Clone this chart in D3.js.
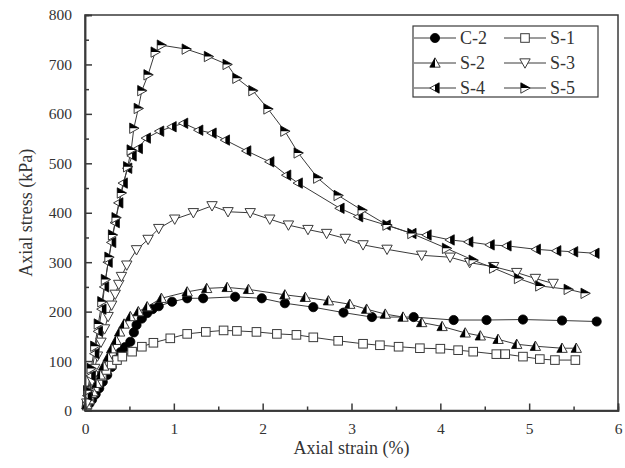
<!DOCTYPE html>
<html>
<head>
<meta charset="utf-8">
<script src="https://cdn.jsdelivr.net/npm/d3@7"></script>
<style>
  html, body { margin: 0; padding: 0; background: #fff; }
  svg { display: block; }
  text { font-family: "Liberation Serif", "Times New Roman", serif; fill: #333; }
</style>
</head>
<body>
<svg id="chart" width="625" height="468"></svg>
<script>
// Stress–strain data for each specimen (strain in %, stress in kPa)
const c2Strain = [0.02, 0.05, 0.08, 0.12, 0.16, 0.20, 0.25, 0.30, 0.35, 0.40, 0.45, 0.51, 0.55, 0.58, 0.64, 0.70, 0.76, 0.83, 0.98, 1.15, 1.33, 1.69, 1.99, 2.25, 2.57, 2.91, 3.23, 3.70, 4.15, 4.52, 4.93, 5.37, 5.76];
const c2Stress = [8, 14, 22, 33, 45, 58, 72, 88, 103, 118, 128, 139, 158, 173, 186, 197, 205, 211, 220, 227, 227, 230, 227, 217, 209, 198, 189, 189, 183, 183, 184, 182, 180];

const s1Strain = [0.02, 0.05, 0.08, 0.11, 0.15, 0.19, 0.24, 0.30, 0.36, 0.42, 0.53, 0.64, 0.77, 0.96, 1.15, 1.36, 1.56, 1.71, 1.93, 2.16, 2.38, 2.57, 2.85, 3.13, 3.32, 3.53, 3.77, 4.00, 4.20, 4.37, 4.63, 4.73, 4.93, 5.12, 5.29, 5.52];
const s1Stress = [10, 22, 35, 47, 58, 70, 82, 93, 102, 109, 119, 129, 137, 146, 155, 159, 162, 161, 159, 155, 153, 148, 141, 135, 132, 129, 126, 125, 122, 119, 114, 114, 109, 104, 102, 102];

const s2Strain = [0.02, 0.05, 0.09, 0.13, 0.17, 0.21, 0.26, 0.30, 0.35, 0.39, 0.44, 0.51, 0.60, 0.70, 0.86, 1.15, 1.37, 1.60, 1.84, 2.25, 2.48, 2.74, 2.98, 3.17, 3.38, 3.58, 3.79, 4.02, 4.28, 4.45, 4.65, 4.86, 5.07, 5.37, 5.53];
const s2Stress = [12, 22, 38, 55, 72, 90, 108, 125, 142, 159, 175, 190, 200, 210, 227, 240, 247, 249, 245, 234, 229, 222, 215, 205, 195, 189, 178, 170, 157, 151, 144, 134, 130, 126, 126];

const s3Strain = [0.02, 0.05, 0.08, 0.11, 0.14, 0.18, 0.22, 0.26, 0.30, 0.34, 0.38, 0.41, 0.47, 0.58, 0.71, 0.83, 1.01, 1.22, 1.43, 1.61, 1.86, 2.08, 2.29, 2.51, 2.72, 2.93, 3.13, 3.40, 3.79, 4.11, 4.33, 4.60, 4.86, 5.07, 5.27];
const s3Stress = [15, 35, 60, 85, 110, 138, 165, 190, 213, 235, 255, 271, 294, 325, 346, 368, 387, 400, 414, 402, 400, 387, 375, 366, 358, 348, 335, 326, 314, 310, 299, 291, 279, 267, 257];

const s4Strain = [0.03, 0.07, 0.11, 0.15, 0.19, 0.22, 0.26, 0.30, 0.34, 0.38, 0.43, 0.48, 0.53, 0.60, 0.69, 0.84, 0.98, 1.11, 1.28, 1.43, 1.58, 1.82, 2.08, 2.27, 2.40, 2.87, 3.08, 3.39, 3.68, 3.85, 4.11, 4.32, 4.56, 4.75, 5.08, 5.31, 5.50, 5.74];
const s4Stress = [30, 70, 115, 160, 205, 250, 300, 340, 380, 420, 460, 490, 515, 530, 551, 565, 574, 581, 567, 561, 547, 525, 503, 476, 460, 409, 392, 375, 358, 355, 345, 341, 335, 333, 326, 323, 321, 318];

const s5Strain = [0.03, 0.07, 0.11, 0.15, 0.19, 0.23, 0.27, 0.31, 0.35, 0.41, 0.48, 0.52, 0.55, 0.60, 0.64, 0.71, 0.79, 0.86, 1.14, 1.39, 1.60, 1.71, 1.89, 2.06, 2.25, 2.40, 2.62, 2.85, 3.12, 3.40, 3.68, 4.07, 4.37, 4.60, 4.88, 5.12, 5.44, 5.63];
const s5Stress = [40, 85, 130, 175, 220, 265, 310, 355, 390, 440, 493, 527, 571, 611, 647, 679, 725, 739, 731, 716, 700, 672, 647, 610, 565, 521, 470, 435, 405, 375, 358, 328, 304, 288, 267, 252, 245, 237];

const seriesNames = ["C-2", "S-1", "S-2", "S-3", "S-4", "S-5"];
const xTicks = [0, 1, 2, 3, 4, 5, 6];
const yTicks = [0, 100, 200, 300, 400, 500, 600, 700, 800];
const xLabel = "Axial strain (%)";
const yLabel = "Axial stress (kPa)";

const series = [
  { name: seriesNames[0], x: c2Strain, y: c2Stress, symbol: "circle" },
  { name: seriesNames[1], x: s1Strain, y: s1Stress, symbol: "square" },
  { name: seriesNames[2], x: s2Strain, y: s2Stress, symbol: "triUp" },
  { name: seriesNames[3], x: s3Strain, y: s3Stress, symbol: "triDown" },
  { name: seriesNames[4], x: s4Strain, y: s4Stress, symbol: "triLeft" },
  { name: seriesNames[5], x: s5Strain, y: s5Stress, symbol: "triRight" }
];

const svg = d3.select("#chart");
const plot = { left: 85, right: 618, top: 15, bottom: 410.5 };
const ink = "#3a3a3a";

const x = d3.scaleLinear().domain([0, 6]).range([plot.left, plot.right]);
const y = d3.scaleLinear().domain([0, 800]).range([plot.bottom, plot.top]);

// Marker shapes, drawn into a group centred on the data point.
// Half-filled triangles: outlined white shape plus a black half.
function drawSymbol(g, kind) {
  const h = 5.2;
  if (kind === "circle") {
    g.append("circle").attr("r", 4.6).attr("fill", "#000").attr("stroke", "#000").attr("stroke-width", 0.8);
  } else if (kind === "square") {
    g.append("rect").attr("x", -4.3).attr("y", -4.3).attr("width", 8.6).attr("height", 8.6)
      .attr("fill", "#fff").attr("stroke", ink).attr("stroke-width", 1);
  } else if (kind === "triUp") {
    g.append("path").attr("d", `M0,${-h}L${h},${h * 0.8}L${-h},${h * 0.8}Z`)
      .attr("fill", "#fff").attr("stroke", ink).attr("stroke-width", 1);
    g.append("path").attr("d", `M0,${-h}L0,${h * 0.8}L${-h},${h * 0.8}Z`).attr("fill", "#000");
  } else if (kind === "triDown") {
    g.append("path").attr("d", `M0,${h}L${h},${-h * 0.8}L${-h},${-h * 0.8}Z`)
      .attr("fill", "#fff").attr("stroke", ink).attr("stroke-width", 1);
  } else if (kind === "triLeft") {
    g.append("path").attr("d", `M${-h},0L${h * 0.8},${-h}L${h * 0.8},${h}Z`)
      .attr("fill", "#fff").attr("stroke", ink).attr("stroke-width", 1);
    g.append("path").attr("d", `M0,${-h / 1.8}L${h * 0.8},${-h}L${h * 0.8},${h}L0,${h / 1.8}Z`).attr("fill", "#000");
  } else if (kind === "triRight") {
    g.append("path").attr("d", `M${h},0L${-h * 0.8},${-h}L${-h * 0.8},${h}Z`)
      .attr("fill", "#fff").attr("stroke", ink).attr("stroke-width", 1);
    g.append("path").attr("d", `M${h},0L${-h * 0.8},${-h}L${-h * 0.8},0Z`).attr("fill", "#000");
  }
}

// Curves and markers
const line = d3.line().x(d => x(d[0])).y(d => y(d[1]));
const curves = svg.append("g");
series.forEach(s => {
  const pts = s.x.map((v, i) => [v, s.y[i]]);
  curves.append("path").datum(pts).attr("d", line)
    .attr("fill", "none").attr("stroke", ink).attr("stroke-width", 1);
});
series.forEach(s => {
  const pts = s.x.map((v, i) => [v, s.y[i]]);
  curves.selectAll(null).data(pts).enter().append("g")
    .attr("transform", d => `translate(${x(d[0])},${y(d[1])})`)
    .each(function () { drawSymbol(d3.select(this), s.symbol); });
});

// Frame
svg.append("rect").attr("x", plot.left).attr("y", plot.top)
  .attr("width", plot.right - plot.left).attr("height", plot.bottom - plot.top)
  .attr("fill", "none").attr("stroke", ink).attr("stroke-width", 1.5);

// Axes with inward major and minor ticks
svg.append("g").attr("transform", `translate(0,${plot.bottom})`)
  .call(d3.axisBottom(x).tickValues(xTicks).tickSize(-7).tickPadding(12).tickFormat(d3.format("d")));
svg.append("g").attr("transform", `translate(0,${plot.bottom})`)
  .call(d3.axisBottom(x).tickValues(d3.range(0.5, 6, 1)).tickSize(-4).tickFormat(""));
svg.append("g").attr("transform", `translate(${plot.left},0)`)
  .call(d3.axisLeft(y).tickValues(yTicks).tickSize(-7).tickPadding(13).tickFormat(d3.format("d")));
svg.append("g").attr("transform", `translate(${plot.left},0)`)
  .call(d3.axisLeft(y).tickValues(d3.range(50, 800, 100)).tickSize(-4).tickFormat(""));

svg.selectAll(".domain").attr("stroke", ink).attr("stroke-width", 1.5);
svg.selectAll(".tick line").attr("stroke", ink).attr("stroke-width", 1.5);
svg.selectAll(".tick text").attr("font-family", "Liberation Serif").attr("font-size", 15.5).attr("fill", "#333");

// Axis titles
svg.append("text").attr("x", (plot.left + plot.right) / 2).attr("y", 454)
  .attr("text-anchor", "middle").attr("font-size", 18).text(xLabel);
svg.append("text").attr("transform", `translate(32,${(plot.top + plot.bottom) / 2}) rotate(-90)`)
  .attr("text-anchor", "middle").attr("font-size", 18).text(yLabel);

// Legend
const legend = svg.append("g");
legend.append("rect").attr("x", 413).attr("y", 26).attr("width", 185).attr("height", 71)
  .attr("fill", "#fff").attr("stroke", ink).attr("stroke-width", 1.2);
series.forEach((s, i) => {
  const col = i % 2, row = Math.floor(i / 2);
  const x0 = col === 0 ? 414 : 504;
  const cy = 38 + row * 25;
  const lg = legend.append("g");
  lg.append("line").attr("x1", x0).attr("x2", x0 + 42).attr("y1", cy).attr("y2", cy)
    .attr("stroke", ink).attr("stroke-width", 1);
  drawSymbol(lg.append("g").attr("transform", `translate(${x0 + 21},${cy})`), s.symbol);
  lg.append("text").attr("x", x0 + 46).attr("y", cy + 6).attr("font-size", 18).text(s.name);
});
</script>
</body>
</html>
